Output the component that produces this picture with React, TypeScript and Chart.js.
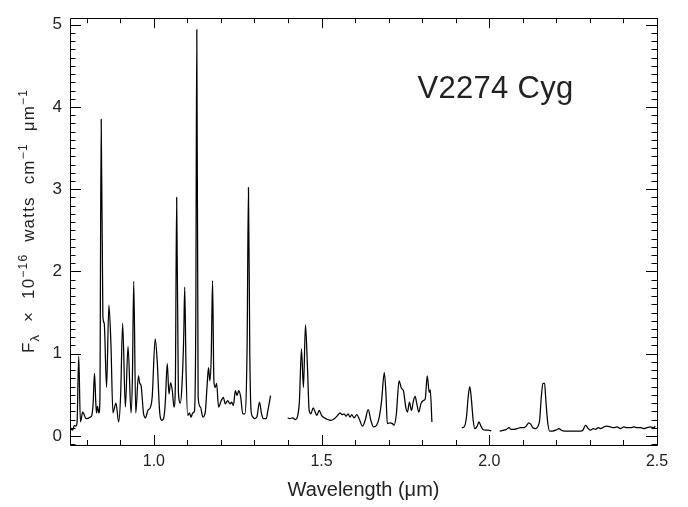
import React, { useEffect, useRef } from "react";
import { Chart, registerables } from "chart.js";

Chart.register(...registerables);

// ---- data (wavelength in micron, flux in 1e-16 W cm^-1 um^-1) ----
const seg1Wave = [
  0.751, 0.758, 0.763, 0.768, 0.771, 0.776, 0.781, 0.788, 0.798, 0.811, 0.815, 0.819, 0.823, 0.827,
  0.829, 0.832, 0.836, 0.839, 0.843, 0.848, 0.852, 0.859, 0.866, 0.872, 0.878, 0.887, 0.895, 0.901,
  0.907, 0.915, 0.923, 0.932, 0.936, 0.940, 0.946, 0.954, 0.958, 0.962, 0.969, 0.975, 0.982, 0.990,
  0.995, 1.004, 1.010, 1.017, 1.024, 1.030, 1.034, 1.040, 1.045, 1.050, 1.055, 1.060, 1.064, 1.068,
  1.073, 1.079, 1.084, 1.089, 1.092, 1.096, 1.101, 1.106, 1.111, 1.116, 1.121, 1.125, 1.128, 1.132,
  1.139, 1.146, 1.153, 1.159, 1.163, 1.167, 1.171, 1.175, 1.179, 1.183, 1.187, 1.193, 1.201, 1.207,
  1.213, 1.220, 1.227, 1.232, 1.237, 1.243, 1.248, 1.253, 1.259, 1.265, 1.271, 1.278, 1.282, 1.286,
  1.290, 1.295, 1.300, 1.307, 1.315, 1.321, 1.327, 1.335, 1.340, 1.348,
];
const seg1Flux = [
  0.09, 0.07, 0.13, 0.12, 0.16, 0.97, 0.17, 0.29, 0.21, 0.23, 0.25, 0.4, 0.76, 0.4,
  0.28, 0.36, 0.28, 0.4, 3.85, 1.45, 1.37, 0.59, 1.59, 1.12, 0.28, 0.4, 0.17, 0.5,
  1.37, 0.35, 1.09, 0.28, 0.7, 1.88, 0.28, 0.73, 0.64, 0.61, 0.28, 0.22, 0.31, 0.35,
  0.47, 1.18, 0.91, 0.31, 0.19, 0.23, 0.4, 0.88, 0.51, 0.65, 0.55, 0.35, 0.6, 2.9,
  0.55, 0.4, 0.63, 1.2, 1.81, 0.8, 0.25, 0.28, 0.23, 0.28, 0.3, 1.4, 4.94, 0.47,
  0.35, 0.23, 0.28, 0.63, 0.83, 0.67, 0.95, 1.89, 0.67, 0.59, 0.64, 0.35, 0.43, 0.47,
  0.39, 0.43, 0.39, 0.41, 0.37, 0.55, 0.49, 0.55, 0.47, 0.27, 0.27, 1.1, 3.02, 1.0,
  0.3, 0.23, 0.21, 0.23, 0.41, 0.27, 0.21, 0.21, 0.31, 0.49,
];
const seg2Wave = [
  1.399, 1.406, 1.414, 1.422, 1.429, 1.434, 1.440, 1.446, 1.452, 1.458, 1.463, 1.468, 1.475, 1.481,
  1.486, 1.493, 1.500, 1.508, 1.518, 1.528, 1.538, 1.548, 1.555, 1.561, 1.567, 1.573, 1.579, 1.585,
  1.590, 1.597, 1.605, 1.612, 1.622, 1.630, 1.639, 1.647, 1.655, 1.664, 1.672, 1.679, 1.687, 1.692,
  1.696, 1.704, 1.711, 1.716, 1.723, 1.731, 1.738, 1.744, 1.751, 1.756, 1.762, 1.768, 1.774, 1.779,
  1.784, 1.790, 1.796, 1.803, 1.809, 1.815, 1.821, 1.824, 1.829,
];
const seg2Flux = [
  0.22, 0.21, 0.22, 0.2, 0.25, 0.43, 1.06, 0.59, 1.35, 0.83, 0.31, 0.27, 0.34, 0.29,
  0.25, 0.31, 0.25, 0.22, 0.2, 0.19, 0.21, 0.25, 0.28, 0.26, 0.27, 0.24, 0.27, 0.23,
  0.26, 0.22, 0.26, 0.21, 0.12, 0.19, 0.32, 0.19, 0.11, 0.13, 0.23, 0.43, 0.77, 0.51,
  0.15, 0.16, 0.15, 0.13, 0.27, 0.67, 0.58, 0.55, 0.35, 0.29, 0.41, 0.31, 0.43, 0.48,
  0.39, 0.29, 0.39, 0.43, 0.45, 0.73, 0.53, 0.56, 0.17,
];
const seg3Wave = [
  1.918, 1.925, 1.932, 1.937, 1.942, 1.947, 1.952, 1.957, 1.964, 1.969, 1.975, 1.981, 1.989, 1.997, 2.006,
];
const seg3Flux = [
  0.1, 0.11, 0.23, 0.47, 0.6, 0.43, 0.19, 0.09, 0.12, 0.17, 0.12, 0.08, 0.07, 0.07, 0.06,
];
const seg4Wave = [
  2.031, 2.044, 2.051, 2.059, 2.065, 2.074, 2.083, 2.093, 2.103, 2.110, 2.118, 2.124, 2.130, 2.138,
  2.144, 2.150, 2.155, 2.160, 2.165, 2.168, 2.174, 2.180, 2.188, 2.198, 2.208, 2.215, 2.225, 2.237,
  2.249, 2.262, 2.272, 2.279, 2.287, 2.295, 2.302, 2.310, 2.317, 2.325, 2.332, 2.342, 2.351, 2.361,
  2.371, 2.381, 2.391, 2.401, 2.411, 2.421, 2.431, 2.441, 2.451, 2.460, 2.470, 2.480, 2.490, 2.495,
];
const seg4Flux = [
  0.06, 0.07, 0.08, 0.1, 0.08, 0.08, 0.09, 0.1, 0.1, 0.12, 0.16, 0.14, 0.1, 0.09,
  0.11, 0.19, 0.47, 0.64, 0.64, 0.47, 0.17, 0.06, 0.06, 0.07, 0.09, 0.07, 0.06, 0.06,
  0.06, 0.06, 0.06, 0.07, 0.13, 0.09, 0.07, 0.09, 0.08, 0.1, 0.09, 0.11, 0.12, 0.11,
  0.1, 0.11, 0.09, 0.11, 0.1, 0.1, 0.11, 0.1, 0.1, 0.09, 0.1, 0.11, 0.1, 0.12,
];

const xTickValues = [1.0, 1.5, 2.0, 2.5];
const yTickValues = [0, 1, 2, 3, 4, 5];
const plotTitle = "V2274 Cyg";
const xAxisTitle = "Wavelength (\u03bcm)";

const X_MIN = 0.75;
const X_MAX = 2.5;
const Y_MIN = -0.11;
const Y_MAX = 5.08;

const TEXT_COLOR = "#222";
const FONT_FAMILY = '"Liberation Sans", Arial, sans-serif';

const framePlugin = {
  id: "idlFrame",
  afterDraw(chart: any) {
    const { ctx, chartArea: a, scales } = chart;
    const xs = scales.x;
    const ys = scales.y;
    ctx.save();
    ctx.strokeStyle = "#000";
    ctx.lineWidth = 1;
    ctx.beginPath();
    ctx.rect(Math.round(a.left) + 0.5, Math.round(a.top) + 0.5, Math.round(a.width), Math.round(a.height));
    ctx.stroke();
    ctx.beginPath();
    for (let i = 8; i <= 25; i++) {
      const v = i / 10;
      const px = Math.round(xs.getPixelForValue(v)) + 0.5;
      const len = i % 5 === 0 ? 10 : 5;
      ctx.moveTo(px, a.bottom);
      ctx.lineTo(px, a.bottom - len);
      ctx.moveTo(px, a.top);
      ctx.lineTo(px, a.top + len);
    }
    for (let i = -1; i <= 51; i++) {
      const v = i / 10;
      if (v < Y_MIN || v > Y_MAX) continue;
      const py = Math.round(ys.getPixelForValue(v)) + 0.5;
      const len = i % 10 === 0 ? 11 : 5.5;
      ctx.moveTo(a.left, py);
      ctx.lineTo(a.left + len, py);
      ctx.moveTo(a.right, py);
      ctx.lineTo(a.right - len, py);
    }
    ctx.stroke();

    // title inside plot
    ctx.fillStyle = TEXT_COLOR;
    ctx.font = `31px ${FONT_FAMILY}`;
    ctx.textBaseline = "alphabetic";
    ctx.textAlign = "left";
    (ctx as any).letterSpacing = "0.3px";
    ctx.fillText(plotTitle, a.left + 0.592 * a.width, a.top + 80);
    (ctx as any).letterSpacing = "0px";

    // y axis label with sub/superscripts
    const main = 17;
    const small = 12;
    const pieces = [
      { t: "F", s: main, dy: 0 },
      { t: "\u03bb", s: 13, dy: 5 },
      { t: "  \u00d7  10", s: main, dy: 0 },
      { t: "\u221216", s: small, dy: -7 },
      { t: "  watts  cm", s: main, dy: 0 },
      { t: "\u22121", s: small, dy: -7 },
      { t: "  \u03bcm", s: main, dy: 0 },
      { t: "\u22121", s: small, dy: -7 },
    ];
    const spacing = 1.2;
    let total = 0;
    const widths: number[] = [];
    for (const p of pieces) {
      ctx.font = `${p.s}px ${FONT_FAMILY}`;
      (ctx as any).letterSpacing = `${spacing}px`;
      const w = ctx.measureText(p.t).width;
      widths.push(w);
      total += w;
    }
    const cy = 221;
    const bx = 34;
    ctx.translate(bx, cy + total / 2);
    ctx.rotate(-Math.PI / 2);
    let cx = 0;
    pieces.forEach((p, i) => {
      ctx.font = `${p.s}px ${FONT_FAMILY}`;
      (ctx as any).letterSpacing = `${spacing}px`;
      ctx.fillText(p.t, cx, p.dy);
      cx += widths[i];
    });
    (ctx as any).letterSpacing = "0px";
    ctx.restore();
  },
};

export default function App() {
  const canvasRef = useRef<HTMLCanvasElement | null>(null);

  useEffect(() => {
    document.body.style.margin = "0";
    const canvas = canvasRef.current;
    if (!canvas) return;
    const segments = [
      [seg1Wave, seg1Flux],
      [seg2Wave, seg2Flux],
      [seg3Wave, seg3Flux],
      [seg4Wave, seg4Flux],
    ];
    const chart = new Chart(canvas, {
      type: "line",
      data: {
        datasets: segments.map(([w, f]) => ({
          data: w.map((x, i) => ({ x, y: f[i] })),
          borderColor: "#000",
          borderWidth: 1.25,
          pointRadius: 0,
          fill: false,
          cubicInterpolationMode: "monotone" as const,
        })),
      },
      options: {
        responsive: false,
        animation: false,
        layout: { padding: { left: 0, right: 31, top: 12, bottom: 0 } },
        plugins: {
          legend: { display: false },
          tooltip: { enabled: false },
          title: { display: false },
        },
        scales: {
          x: {
            type: "linear",
            min: X_MIN,
            max: X_MAX,
            grid: { display: false, drawTicks: false },
            border: { display: false },
            afterBuildTicks: (s: any) => {
              s.ticks = xTickValues.map((v) => ({ value: v }));
            },
            afterFit: (s: any) => {
              s.height = 62;
            },
            ticks: {
              autoSkip: false,
              maxRotation: 0,
              padding: 7,
              color: TEXT_COLOR,
              font: { family: FONT_FAMILY, size: 16 },
              callback: (v: any) => Number(v).toFixed(1),
            },
            title: {
              display: true,
              text: xAxisTitle,
              color: TEXT_COLOR,
              font: { family: FONT_FAMILY, size: 20 },
              padding: { top: 0, bottom: 5 },
            },
          },
          y: {
            type: "linear",
            min: Y_MIN,
            max: Y_MAX,
            grid: { display: false, drawTicks: false },
            border: { display: false },
            afterBuildTicks: (s: any) => {
              s.ticks = yTickValues.map((v) => ({ value: v }));
            },
            afterFit: (s: any) => {
              s.width = 70;
            },
            ticks: {
              autoSkip: false,
              padding: 8,
              color: TEXT_COLOR,
              font: { family: FONT_FAMILY, size: 17 },
              callback: (v: any) => String(v),
            },
          },
        },
      },
      plugins: [framePlugin],
    });
    return () => chart.destroy();
  }, []);

  return (
    <div style={{ position: "fixed", left: 0, top: 0, width: 688, height: 507, background: "#fff" }}>
      <canvas ref={canvasRef} width={688} height={507} />
    </div>
  );
}
